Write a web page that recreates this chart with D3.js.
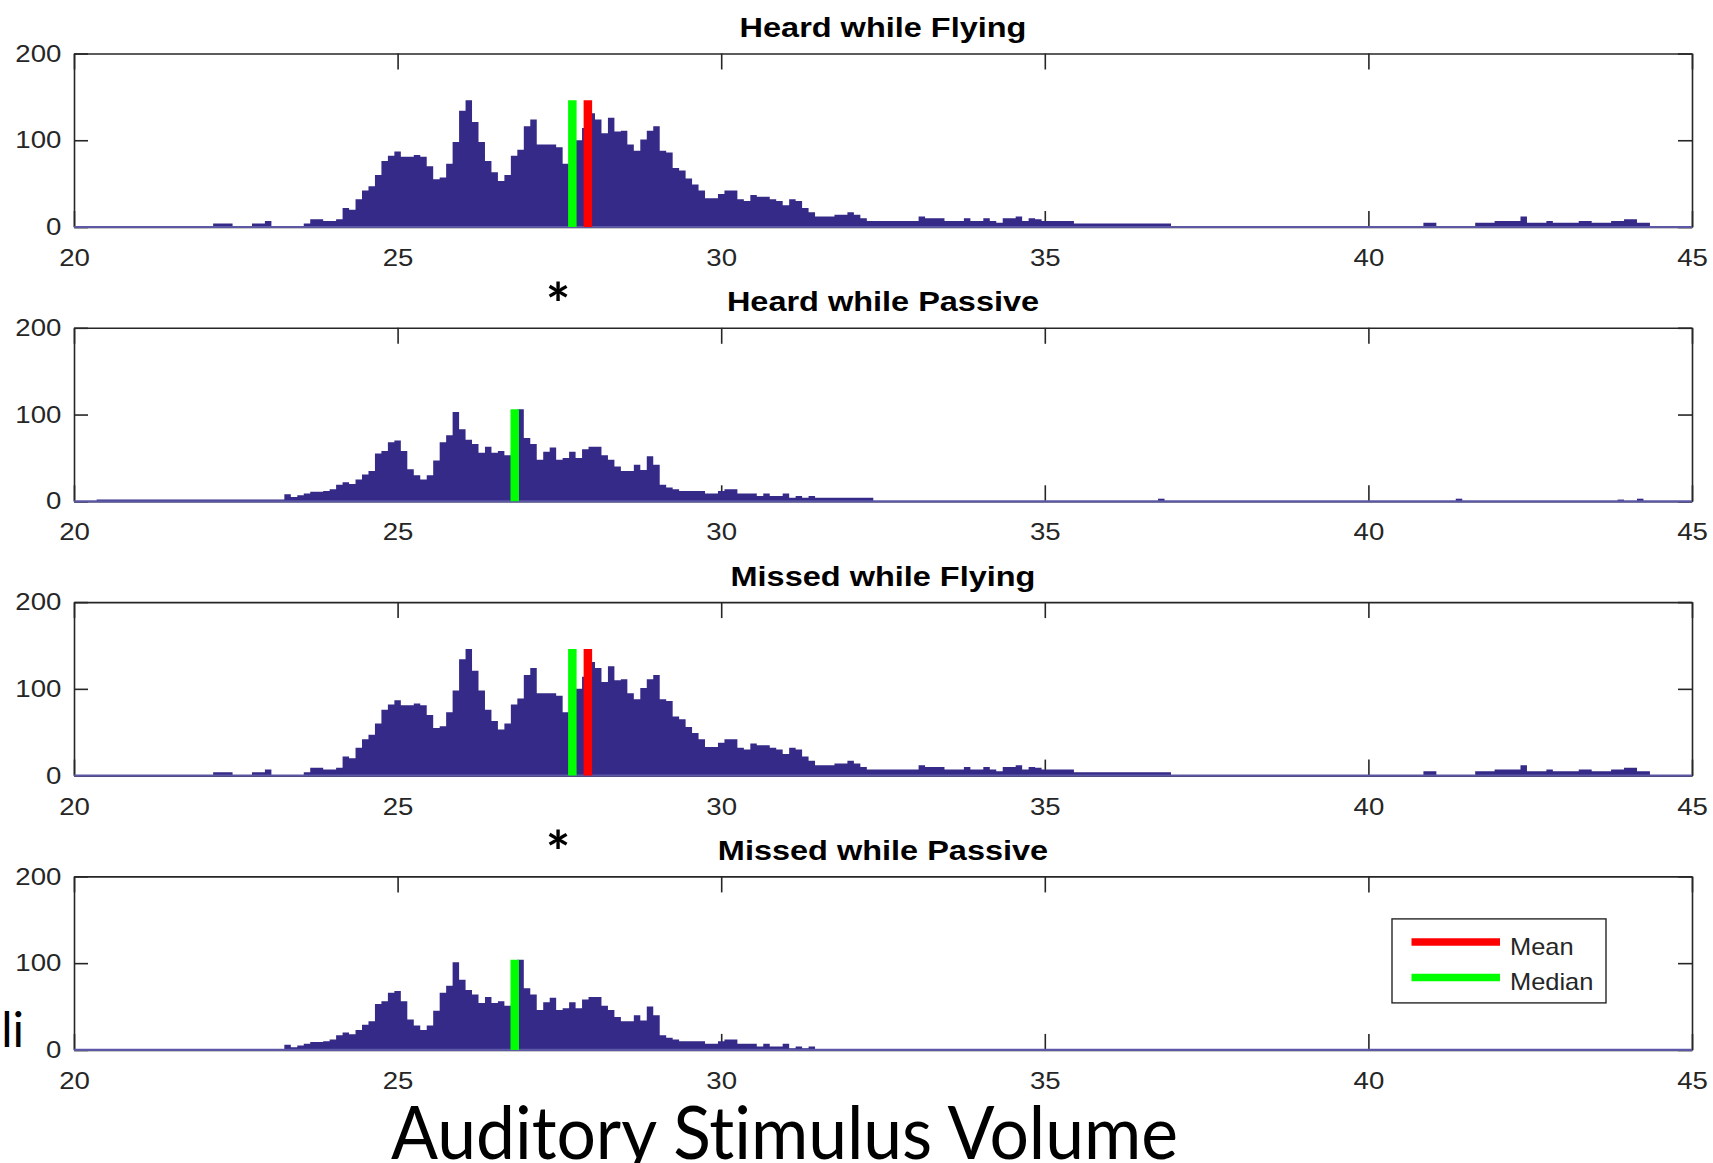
<!DOCTYPE html>
<html>
<head>
<meta charset="utf-8">
<script src="https://cdn.jsdelivr.net/npm/d3@7"></script>
<style>
body { margin: 0; background: #fff; }
text { font-variant-ligatures: none; }
</style>
</head>
<body>
<div id="chart"></div>
<script>
// histogram bins are 0.1 wide; each block lists counts from its first bin centre
var binWidth = 0.1;

var heardFlyingStart = 22.2;
var heardFlyingCounts = [
	4, 4, 4, 0, 0, 0, 4, 4, 7, 0,
	0, 0, 0, 0, 4, 9, 9, 7, 7, 9,
	22, 20, 32, 42, 47, 60, 76, 82, 87, 81,
	81, 83, 81, 70, 55, 57, 73, 98, 134, 146,
	121, 98, 76, 63, 53, 60, 82, 89, 116, 124,
	95, 95, 95, 92, 73, 88, 100, 114, 131, 124,
	108, 126, 110, 111, 95, 88, 101, 111, 116, 88,
	86, 68, 65, 56, 49, 42, 33, 33, 38, 42,
	42, 32, 30, 37, 35, 35, 32, 30, 25, 32,
	30, 22, 17, 12, 12, 12, 14, 14, 17, 14,
	10, 7, 7, 7, 7, 7, 7, 7, 7, 12,
	10, 10, 10, 7, 7, 7, 10, 7, 7, 10,
	7, 5, 10, 10, 12, 7, 10, 9, 7, 7,
	7, 7, 7, 4, 4, 4, 4, 4, 4, 4,
	4, 4, 4, 4, 4, 4, 4, 4
];
var heardFlyingFarStart = 40.9;
var heardFlyingFarCounts = [
	5, 5, 0, 0, 0, 0, 0, 0, 5, 5,
	5, 7, 7, 7, 7, 12, 5, 5, 5, 7,
	5, 5, 5, 5, 7, 7, 5, 5, 5, 7,
	7, 9, 9, 5, 5
];

var heardPassiveStart = 20.4;
var heardPassiveCounts = [
	2, 2, 2, 2, 2, 2, 2, 2, 2, 2,
	2, 2, 2, 2, 2, 2, 2, 2, 2, 2,
	2, 2, 2, 2, 2, 2, 2, 2, 2, 8,
	5, 7, 9, 11, 11, 12, 14, 19, 22, 20,
	25, 31, 35, 55, 58, 68, 70, 58, 37, 30,
	25, 30, 47, 68, 76, 103, 83, 71, 66, 56,
	63, 56, 58, 53, 55, 106, 73, 66, 48, 57,
	62, 48, 50, 57, 50, 60, 63, 63, 53, 48,
	40, 35, 35, 42, 36, 52, 42, 19, 16, 14,
	12, 12, 12, 12, 9, 9, 12, 14, 14, 9,
	9, 9, 6, 9, 6, 6, 9, 4, 6, 4,
	6, 4, 4, 4, 4, 4, 4, 4, 4, 4
];
// isolated single bins further right: [centre, count]
var heardPassiveStray = [[36.8, 3], [41.4, 3], [43.9, 2], [44.2, 3]];

var missedFlyingStart = 22.2;
var missedFlyingCounts = [
	4, 4, 4, 0, 0, 0, 4, 4, 7, 0,
	0, 0, 0, 0, 4, 9, 9, 7, 7, 9,
	22, 20, 32, 42, 47, 60, 76, 82, 87, 81,
	81, 83, 81, 70, 55, 57, 73, 98, 134, 146,
	121, 98, 76, 63, 53, 60, 82, 89, 116, 124,
	95, 95, 95, 92, 73, 88, 100, 114, 131, 124,
	108, 126, 110, 111, 95, 88, 101, 111, 116, 88,
	86, 68, 65, 56, 49, 42, 33, 33, 38, 42,
	42, 32, 30, 37, 35, 35, 32, 30, 25, 32,
	30, 22, 17, 12, 12, 12, 14, 14, 17, 14,
	10, 7, 7, 7, 7, 7, 7, 7, 7, 12,
	10, 10, 10, 7, 7, 7, 10, 7, 7, 10,
	7, 5, 10, 10, 12, 7, 10, 9, 7, 7,
	7, 7, 7, 4, 4, 4, 4, 4, 4, 4,
	4, 4, 4, 4, 4, 4, 4, 4
];
var missedFlyingFarStart = 40.9;
var missedFlyingFarCounts = [
	5, 5, 0, 0, 0, 0, 0, 0, 5, 5,
	5, 7, 7, 7, 7, 12, 5, 5, 5, 7,
	5, 5, 5, 5, 7, 7, 5, 5, 5, 7,
	7, 9, 9, 5, 5
];

var missedPassiveStart = 23.3;
var missedPassiveCounts = [
	6, 3, 5, 7, 9, 9, 10, 12, 17, 20,
	18, 23, 29, 33, 53, 56, 66, 68, 56, 35,
	28, 23, 28, 45, 66, 74, 101, 81, 69, 64,
	54, 61, 54, 56, 51, 53, 104, 71, 64, 46,
	55, 60, 46, 48, 55, 48, 58, 61, 61, 51,
	46, 38, 33, 33, 40, 34, 50, 40, 17, 14,
	12, 10, 10, 10, 10, 7, 7, 10, 12, 12,
	7, 7, 7, 4, 7, 4, 4, 7, 2, 4,
	2, 4
];

var panelTitles = ["Heard while Flying", "Heard while Passive", "Missed while Flying", "Missed while Passive"];
var medianValues = [27.70, 26.81, 27.70, 26.81];
var meanValues = [27.94, null, 27.94, null];
var xTickValues = [20, 25, 30, 35, 40, 45];
var yTickValues = [0, 100, 200];
var legendLabels = ["Mean", "Median"];
var starPositions = [27.48, 27.48]; // above panels 2 and 4

var W = 1713, H = 1163;
var plotLeft = 74, plotRight = 1692;
var panelTop0 = 53.5, panelStep = 274.3, panelH = 173.5;
var barColor = "#352a87";
var baseColor = "#5c58a6";
var axisColor = "#262626";
var meanColor = "#ff0000", medianColor = "#00ff00";

function blockPoints(start, counts) {
	var pts = counts.map(function(n, i) {
		return { x: start + i * binWidth - binWidth / 2, n: n };
	});
	pts.push({ x: start + counts.length * binWidth - binWidth / 2, n: 0 });
	return pts;
}

var panels = [
	[blockPoints(heardFlyingStart, heardFlyingCounts), blockPoints(heardFlyingFarStart, heardFlyingFarCounts)],
	[blockPoints(heardPassiveStart, heardPassiveCounts)].concat(heardPassiveStray.map(function(s) {
		return blockPoints(s[0], [s[1]]);
	})),
	[blockPoints(missedFlyingStart, missedFlyingCounts), blockPoints(missedFlyingFarStart, missedFlyingFarCounts)],
	[blockPoints(missedPassiveStart, missedPassiveCounts)]
];

var svg = d3.select("#chart").append("svg")
	.attr("width", W).attr("height", H)
	.style("font-family", "'Liberation Sans', Arial, sans-serif");

var x = d3.scaleLinear().domain([20, 45]).range([plotLeft, plotRight]);

panels.forEach(function(blocks, p) {
	var top = panelTop0 + panelStep * p;
	var y = d3.scaleLinear().domain([0, 200]).range([top + panelH, top]);
	var g = svg.append("g");

	// axes box with inward ticks (drawn under the data, like matlab)
	var bottomAx = g.append("g").attr("transform", "translate(0," + y(0) + ")")
		.call(d3.axisBottom(x).tickValues(xTickValues).tickSizeInner(-16).tickSizeOuter(0).tickPadding(22));
	g.append("g").attr("transform", "translate(0," + y(200) + ")")
		.call(d3.axisTop(x).tickValues(xTickValues).tickSizeInner(-16).tickSizeOuter(0).tickFormat(""));
	var leftAx = g.append("g").attr("transform", "translate(" + plotLeft + ",0)")
		.call(d3.axisLeft(y).tickValues(yTickValues).tickSizeInner(-14).tickSizeOuter(0).tickPadding(11));
	g.append("g").attr("transform", "translate(" + plotRight + ",0)")
		.call(d3.axisRight(y).tickValues(yTickValues).tickSizeInner(-14).tickSizeOuter(0).tickFormat(""));

	g.selectAll(".domain").attr("stroke", axisColor).attr("stroke-width", 1.6);
	g.selectAll(".tick line").attr("stroke", axisColor).attr("stroke-width", 1.6);
	bottomAx.selectAll("text").attr("font-size", 24).attr("fill", axisColor)
		.attr("font-family", "'Liberation Sans', Arial, sans-serif")
		.attr("transform", "scale(1.15,1)");
	leftAx.selectAll("text").attr("font-size", 24).attr("fill", axisColor)
		.attr("font-family", "'Liberation Sans', Arial, sans-serif")
		.attr("transform", "scale(1.15,1)");

	// histogram
	var area = d3.area().curve(d3.curveStepAfter)
		.x(function(d) { return x(d.x); })
		.y0(y(0))
		.y1(function(d) { return y(d.n); });
	blocks.forEach(function(pts) {
		g.append("path").datum(pts).attr("d", area).attr("fill", barColor);
	});
	g.append("line")
		.attr("x1", x(20)).attr("x2", x(45))
		.attr("y1", y(0)).attr("y2", y(0))
		.attr("stroke", baseColor).attr("stroke-width", 2.2);

	// mean / median markers run up to the tallest bin
	var maxCount = d3.max(blocks, function(pts) { return d3.max(pts, function(d) { return d.n; }); });
	if (meanValues[p] != null) {
		g.append("line").attr("x1", x(meanValues[p])).attr("x2", x(meanValues[p]))
			.attr("y1", y(0)).attr("y2", y(maxCount))
			.attr("stroke", meanColor).attr("stroke-width", 8.5);
	}
	g.append("line").attr("x1", x(medianValues[p])).attr("x2", x(medianValues[p]))
		.attr("y1", y(0)).attr("y2", y(maxCount))
		.attr("stroke", medianColor).attr("stroke-width", 8.5);

	// title
	g.append("text")
		.attr("transform", "translate(" + ((plotLeft + plotRight) / 2) + "," + (top - 16.5) + ") scale(1.16,1)")
		.attr("text-anchor", "middle")
		.attr("font-size", 28).attr("font-weight", "bold").attr("fill", "#000")
		.text(panelTitles[p]);

	// legend only in the last panel
	if (p === 3) {
		var lg = g.append("g").attr("transform", "translate(1392," + (top + 42.5) + ")");
		lg.append("rect").attr("width", 214).attr("height", 84)
			.attr("fill", "#fff").attr("stroke", axisColor).attr("stroke-width", 1.4);
		[meanColor, medianColor].forEach(function(c, i) {
			var ly = 23 + i * 35.5;
			lg.append("line").attr("x1", 19.5).attr("x2", 108).attr("y1", ly).attr("y2", ly)
				.attr("stroke", c).attr("stroke-width", 7.5);
			lg.append("text").attr("transform", "translate(118," + (ly + 13) + ") scale(1.06,1)")
				.attr("font-size", 24).attr("fill", axisColor).text(legendLabels[i]);
		});
	}
});

// significance stars above the passive panels
[1, 3].forEach(function(p, i) {
	var yy = panelTop0 + panelStep * p - 37;
	svg.append("text").attr("x", x(starPositions[i])).attr("y", yy + 34)
		.attr("text-anchor", "middle")
		.attr("font-family", "Lato, 'Open Sans', sans-serif")
		.attr("font-weight", "bold").attr("font-size", 58).attr("fill", "#000")
		.text("*");
});

// slide text around the figure
svg.append("text").attr("x", 24).attr("y", 1047).attr("text-anchor", "end")
	.attr("font-family", "Lato, 'Open Sans', sans-serif").attr("font-size", 48).attr("fill", "#000")
	.text("li");
svg.append("text").attr("x", 391).attr("y", 1158.5)
	.attr("font-family", "Lato, 'Open Sans', sans-serif").attr("font-size", 74).attr("fill", "#000")
	.attr("textLength", 787).attr("lengthAdjust", "spacingAndGlyphs")
	.text("Auditory Stimulus Volume");
</script>
</body>
</html>
